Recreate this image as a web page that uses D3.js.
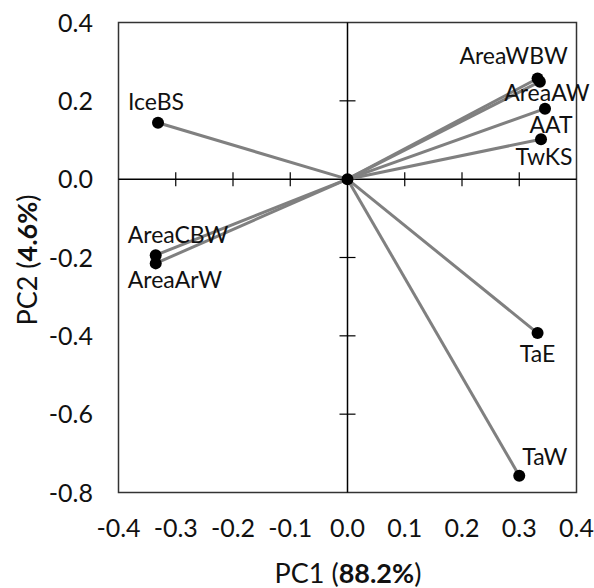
<!DOCTYPE html>
<html>
<head>
<meta charset="utf-8">
<title>PCA loadings</title>
<script src="https://d3js.org/d3.v7.min.js"></script>
<style>
    body { margin: 0; background: white; }
    text { font-family: Lato, "Open Sans", sans-serif; fill: #111; }
    .tick-label { font-size: 25px; }
    .var-label { font-size: 23px; }
    .axis-title { font-size: 27px; }
</style>
</head>
<body>
<div id="chart"></div>
<script>
    // loadings
    let names = ["IceBS", "AreaWBW", "AreaAW", "AAT", "TwKS", "AreaCBW", "AreaArW", "TaE", "TaW"];
    let pc1 = [-0.331, 0.332, 0.336, 0.345, 0.338, -0.335, -0.335, 0.332, 0.300];
    let pc2 = [0.144, 0.257, 0.249, 0.180, 0.102, -0.194, -0.215, -0.393, -0.757];
    // label placement: anchor and offset (px) from the point
    let labelPos = [
        ["middle", -2, -13],
        ["middle", -24, -15],
        ["middle", 7, 19],
        ["middle", 6, 24],
        ["middle", 3, 26],
        ["start", -28, -12],
        ["start", -28, 25],
        ["middle", 0, 29],
        ["start", 3, -11]
    ];
    let xTicks = [-0.4, -0.3, -0.2, -0.1, 0.0, 0.1, 0.2, 0.3, 0.4];
    let yTicks = [0.4, 0.2, 0.0, -0.2, -0.4, -0.6, -0.8];

    let width = 594, height = 588;
    let mLeft = 118.5, mRight = 576.5, mTop = 22.5, mBottom = 492.5;

    let svg = d3.select("#chart").append("svg")
        .attr("width", width).attr("height", height);

    let x = d3.scaleLinear().domain([-0.4, 0.4]).range([mLeft, mRight]);
    let y = d3.scaleLinear().domain([-0.8, 0.4]).range([mBottom, mTop]);

    // frame
    svg.append("rect")
        .attr("x", mLeft).attr("y", mTop)
        .attr("width", mRight - mLeft).attr("height", mBottom - mTop)
        .attr("fill", "none").attr("stroke", "#333").attr("stroke-width", 1.5);

    // zero lines with cross ticks
    svg.append("line")
        .attr("x1", mLeft).attr("x2", mRight)
        .attr("y1", y(0)).attr("y2", y(0))
        .attr("stroke", "#000").attr("stroke-width", 1.5);
    svg.append("line")
        .attr("x1", x(0)).attr("x2", x(0))
        .attr("y1", mTop).attr("y2", mBottom)
        .attr("stroke", "#000").attr("stroke-width", 1.5);

    svg.append("g").selectAll("line")
        .data(xTicks.filter(d => d > -0.4 && d < 0.4 && d !== 0))
        .enter().append("line")
        .attr("x1", d => x(d)).attr("x2", d => x(d))
        .attr("y1", y(0) - 7).attr("y2", y(0) + 7)
        .attr("stroke", "#000").attr("stroke-width", 1.2);
    svg.append("g").selectAll("line")
        .data(yTicks.filter(d => d > -0.8 && d < 0.4 && d !== 0))
        .enter().append("line")
        .attr("x1", x(0) - 8).attr("x2", x(0) + 8)
        .attr("y1", d => y(d)).attr("y2", d => y(d))
        .attr("stroke", "#000").attr("stroke-width", 1.2);

    // tick labels
    svg.append("g").selectAll("text")
        .data(xTicks)
        .enter().append("text")
        .attr("class", "tick-label")
        .attr("x", d => x(d))
        .attr("y", 537)
        .attr("text-anchor", "middle")
        .text(d => d3.format(".1f")(d).replace("−", "-"));
    svg.append("g").selectAll("text")
        .data(yTicks)
        .enter().append("text")
        .attr("class", "tick-label")
        .attr("x", 93)
        .attr("y", d => y(d) + 9)
        .attr("text-anchor", "end")
        .text(d => d3.format(".1f")(d).replace("−", "-"));

    // vectors
    let idx = d3.range(names.length);
    svg.append("g").selectAll("line")
        .data(idx)
        .enter().append("line")
        .attr("x1", x(0)).attr("y1", y(0))
        .attr("x2", i => x(pc1[i])).attr("y2", i => y(pc2[i]))
        .attr("stroke", "#808080").attr("stroke-width", 3);

    svg.append("g").selectAll("circle")
        .data(idx)
        .enter().append("circle")
        .attr("cx", i => x(pc1[i])).attr("cy", i => y(pc2[i]))
        .attr("r", 6).attr("fill", "#000");
    svg.append("circle")
        .attr("cx", x(0)).attr("cy", y(0)).attr("r", 6).attr("fill", "#000");

    svg.append("g").selectAll("text")
        .data(idx)
        .enter().append("text")
        .attr("class", "var-label")
        .attr("x", i => x(pc1[i]) + labelPos[i][1])
        .attr("y", i => y(pc2[i]) + labelPos[i][2])
        .attr("text-anchor", i => labelPos[i][0])
        .text(i => names[i]);

    // axis titles
    let xt = svg.append("text")
        .attr("class", "axis-title")
        .attr("x", 348).attr("y", 583)
        .attr("text-anchor", "middle");
    xt.append("tspan").text("PC1 (");
    xt.append("tspan").attr("font-weight", "bold").text("88.2%");
    xt.append("tspan").text(")");

    let yt = svg.append("text")
        .attr("class", "axis-title")
        .attr("transform", "translate(37,260) rotate(-90)")
        .attr("text-anchor", "middle");
    yt.append("tspan").text("PC2 (");
    yt.append("tspan").attr("font-weight", "bold").text("4.6%");
    yt.append("tspan").text(")");
</script>
</body>
</html>
